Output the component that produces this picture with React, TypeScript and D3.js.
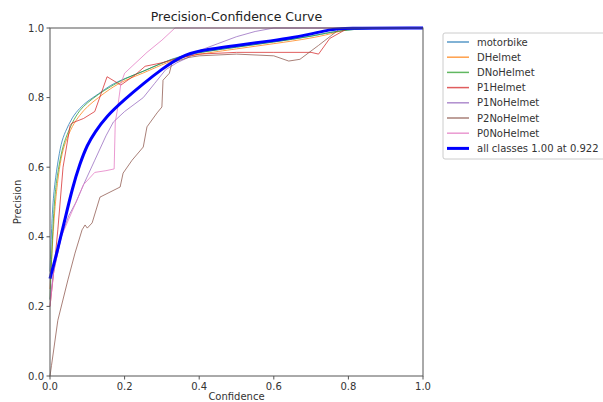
import React from "react";
import * as d3 from "d3";

const classNames = ["motorbike", "DHelmet", "DNoHelmet", "P1Helmet", "P1NoHelmet", "P2NoHelmet", "P0NoHelmet"];
const classColors = ["#1f77b4", "#ff7f0e", "#2ca02c", "#d62728", "#9467bd", "#8c564b", "#e377c2"];

const motorbike: [number, number][] = [[0, 0.3], [0.005, 0.45], [0.01, 0.53], [0.02, 0.61], [0.03, 0.67], [0.04, 0.7], [0.06, 0.745], [0.08, 0.77], [0.1, 0.79], [0.13, 0.81], [0.16, 0.835], [0.2, 0.855], [0.25, 0.875], [0.3, 0.9], [0.35, 0.92], [0.4, 0.93], [0.5, 0.945], [0.6, 0.96], [0.7, 0.975], [0.8, 1.0], [1.0, 1.0]];
const dHelmet: [number, number][] = [[0, 0.25], [0.01, 0.45], [0.02, 0.56], [0.03, 0.63], [0.04, 0.67], [0.06, 0.72], [0.08, 0.75], [0.1, 0.775], [0.13, 0.8], [0.16, 0.825], [0.2, 0.85], [0.25, 0.87], [0.3, 0.895], [0.35, 0.915], [0.4, 0.925], [0.5, 0.94], [0.6, 0.955], [0.7, 0.97], [0.78, 0.99], [0.8, 1.0], [1.0, 1.0]];
const dNoHelmet: [number, number][] = [[0, 0.22], [0.01, 0.5], [0.02, 0.58], [0.03, 0.64], [0.04, 0.68], [0.06, 0.73], [0.08, 0.765], [0.1, 0.785], [0.13, 0.81], [0.16, 0.83], [0.2, 0.855], [0.25, 0.875], [0.3, 0.9], [0.35, 0.918], [0.4, 0.93], [0.5, 0.945], [0.6, 0.96], [0.7, 0.975], [0.8, 1.0], [1.0, 1.0]];
const p1Helmet: [number, number][] = [[0, 0.2], [0.01, 0.3], [0.021, 0.42], [0.035, 0.6], [0.054, 0.72], [0.059, 0.727], [0.09, 0.74], [0.12, 0.76], [0.153, 0.86], [0.19, 0.836], [0.228, 0.865], [0.255, 0.89], [0.3, 0.9], [0.35, 0.915], [0.4, 0.925], [0.5, 0.93], [0.6, 0.93], [0.7, 0.93], [0.72, 0.925], [0.75, 0.97], [0.8, 1.0], [1.0, 1.0]];
const p1NoHelmet: [number, number][] = [[0, 0.22], [0.01, 0.3], [0.03, 0.4], [0.05, 0.46], [0.07, 0.5], [0.09, 0.55], [0.12, 0.62], [0.15, 0.69], [0.17, 0.73], [0.2, 0.76], [0.25, 0.8], [0.28, 0.84], [0.31, 0.88], [0.34, 0.9], [0.37, 0.915], [0.4, 0.935], [0.45, 0.955], [0.5, 0.975], [0.55, 0.99], [0.6, 1.0], [1.0, 1.0]];
const p2NoHelmet: [number, number][] = [[0, 0.0], [0.004, 0.03], [0.021, 0.16], [0.048, 0.276], [0.067, 0.353], [0.086, 0.42], [0.094, 0.434], [0.1, 0.425], [0.113, 0.44], [0.134, 0.514], [0.188, 0.543], [0.196, 0.583], [0.22, 0.62], [0.25, 0.658], [0.26, 0.716], [0.287, 0.756], [0.3, 0.773], [0.303, 0.85], [0.32, 0.87], [0.327, 0.9], [0.37, 0.915], [0.4, 0.92], [0.5, 0.925], [0.6, 0.92], [0.64, 0.905], [0.67, 0.91], [0.72, 0.95], [0.78, 1.0], [1.0, 1.0]];
const p0NoHelmet: [number, number][] = [[0, 0.2], [0.01, 0.3], [0.03, 0.4], [0.05, 0.45], [0.07, 0.5], [0.09, 0.55], [0.12, 0.585], [0.15, 0.59], [0.172, 0.595], [0.175, 0.73], [0.18, 0.76], [0.19, 0.84], [0.2, 0.87], [0.22, 0.89], [0.26, 0.93], [0.3, 0.965], [0.335, 1.0], [1.0, 1.0]];
const allClasses: [number, number][] = [[0, 0.28], [0.02, 0.36], [0.04, 0.45], [0.06, 0.54], [0.08, 0.61], [0.1, 0.665], [0.12, 0.7], [0.15, 0.745], [0.2, 0.795], [0.25, 0.84], [0.3, 0.882], [0.35, 0.918], [0.4, 0.936], [0.5, 0.95], [0.6, 0.964], [0.65, 0.972], [0.7, 0.983], [0.75, 0.995], [0.78, 1.0], [1.0, 1.0]];
const allLabel = "all classes 1.00 at 0.922";

const classSeries = [motorbike, dHelmet, dNoHelmet, p1Helmet, p1NoHelmet, p2NoHelmet, p0NoHelmet];
const smoothClass = [true, true, true, false, false, false, false];
const ticks = [0, 0.2, 0.4, 0.6, 0.8, 1.0];

export default function App() {
  const W = 603, H = 402;
  const x = d3.scaleLinear().domain([0, 1]).range([50, 423]);
  const y = d3.scaleLinear().domain([0, 1]).range([376, 28]);
  const line = d3.line<[number, number]>().x(d => x(d[0])).y(d => y(d[1]));
  const smooth = d3.line<[number, number]>().x(d => x(d[0])).y(d => y(d[1])).curve(d3.curveBasis);
  const font = "DejaVu Sans, sans-serif";
  const axisColor = "#555";
  const legendX = 443, legendY = 33;
  const rowH = 15.2;
  return (
    <svg width={W} height={H} style={{ position: "absolute", left: 0, top: 0, background: "#fff" }} fontFamily={font}>
      <text x={236.5} y={21} textAnchor="middle" fontSize={12.5} fill="#222">Precision-Confidence Curve</text>
      {classSeries.map((s, i) => (
        <path key={i} d={(smoothClass[i] ? smooth(s) : line(s)) || ""} fill="none" stroke={classColors[i]} strokeWidth={1} strokeOpacity={0.75} />
      ))}
      <path d={smooth(allClasses) || ""} fill="none" stroke="#0000ff" strokeWidth={3} />
      <rect x={50} y={28} width={373} height={348} fill="none" stroke={axisColor} strokeWidth={1} />
      {ticks.map(t => (
        <g key={"x" + t}>
          <line x1={x(t)} x2={x(t)} y1={376} y2={379.5} stroke={axisColor} />
          <text x={x(t)} y={390} textAnchor="middle" fontSize={10} fill="#333">{t.toFixed(1)}</text>
        </g>
      ))}
      {ticks.map(t => (
        <g key={"y" + t}>
          <line x1={46.5} x2={50} y1={y(t)} y2={y(t)} stroke={axisColor} />
          <text x={44} y={y(t) + 3.5} textAnchor="end" fontSize={10} fill="#333">{t.toFixed(1)}</text>
        </g>
      ))}
      <text x={236.5} y={400} textAnchor="middle" fontSize={10} fill="#333">Confidence</text>
      <text transform={`translate(21,202) rotate(-90)`} textAnchor="middle" fontSize={10} fill="#333">Precision</text>
      <rect x={legendX} y={legendY} width={200} height={126} rx={2} fill="#fff" stroke="#ccc" strokeWidth={1} />
      {classNames.map((n, i) => (
        <g key={n}>
          <line x1={447} x2={469} y1={42 + i * rowH} y2={42 + i * rowH} stroke={classColors[i]} strokeWidth={1.5} strokeOpacity={0.75} />
          <text x={477} y={45.5 + i * rowH} fontSize={10} fill="#333">{n}</text>
        </g>
      ))}
      <line x1={447} x2={469} y1={42 + 7 * rowH} y2={42 + 7 * rowH} stroke="#0000ff" strokeWidth={3} />
      <text x={477} y={45.5 + 7 * rowH} fontSize={10} fill="#333">{allLabel}</text>
    </svg>
  );
}
